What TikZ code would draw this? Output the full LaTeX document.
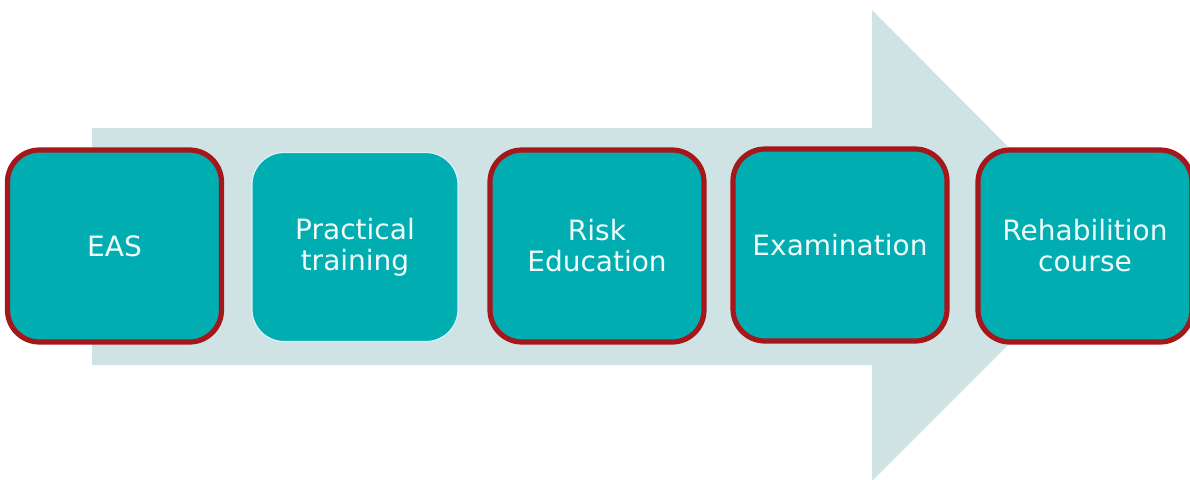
\documentclass[tikz,border=0pt]{standalone}
\usepackage{fontspec}
\setmainfont{DejaVu Sans}
\usetikzlibrary{calc}

\definecolor{arrowbg}{HTML}{CFE3E5}
\definecolor{stepfill}{HTML}{00ADB1}
\definecolor{stepred}{HTML}{A5171B}
\definecolor{steptext}{HTML}{F2FBFB}

\tikzset{
    stepbox/.style={rectangle, rounded corners=16pt, fill=stepfill,
        minimum width=107pt, minimum height=96pt, inner sep=0pt,
        align=center, text=steptext, font=\fontsize{14}{15.5}\selectfont},
    redbox/.style={stepbox, draw=stepred, line width=2.6pt},
    plainbox/.style={stepbox, draw=white!85!cyan, line width=0.6pt,
        minimum width=103pt, minimum height=94.5pt}
}

\begin{document}
\begin{tikzpicture}[x=0.5pt,y=0.5pt]
    % Define the picture size and the row of steps
    \def\w{1190}  % picture width
    \def\h{479}   % picture height
    \def\yc{233}  % centre line of the boxes

    \useasboundingbox (0,0) rectangle (\w,\h);
    \clip (0,0) rectangle (\w,\h);

    % Corners of the big arrow
    \coordinate (B0) at (92, 114);
    \coordinate (B1) at (872, 114);
    \coordinate (H0) at (872, -2);
    \coordinate (T)  at (1107, \yc);
    \coordinate (H1) at (872, 469);
    \coordinate (B2) at (872, 351);
    \coordinate (B3) at (92, 351);

    % Draw the arrow in the background
    \fill[arrowbg] (B0) -- (B1) -- (H0) -- (T) -- (H1) -- (B2) -- (B3) -- cycle;

    % Draw the steps
    \node[redbox]   (eas)   at (114.5, \yc) {EAS};
    \node[plainbox] (train) at (355, \yc-1) {Practical\\training};
    \node[redbox]   (risk)  at (597, \yc) {Risk\\Education};
    \node[redbox]   (exam)  at (840, \yc+1) {Examination};
    \node[redbox]   (rehab) at (1085, \yc) {Rehabilition\\course};
\end{tikzpicture}
\end{document}
